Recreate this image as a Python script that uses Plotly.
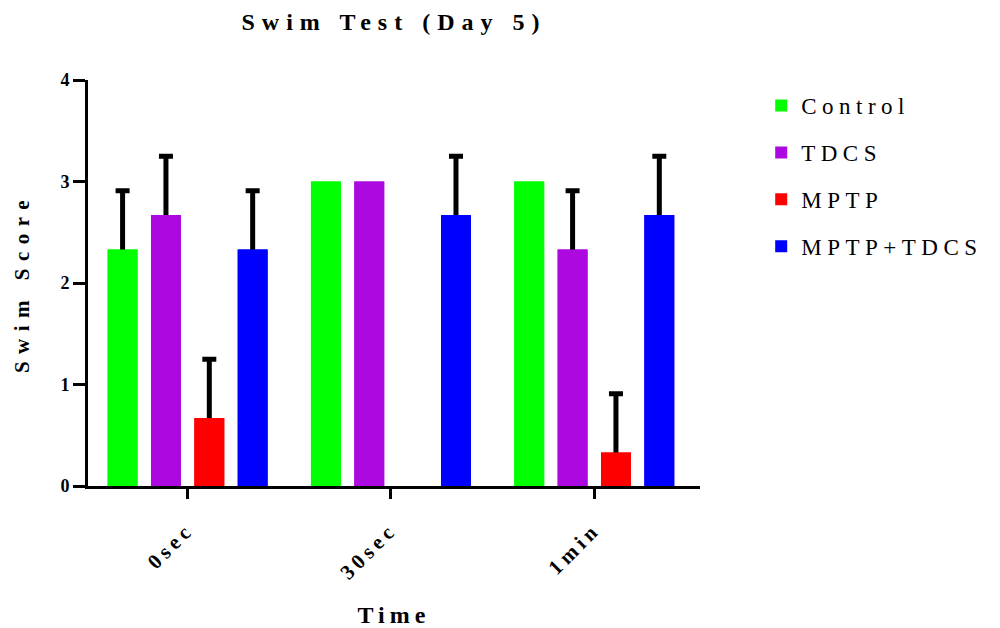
import plotly.graph_objects as go

categories = ["0sec", "30sec", "1min"]
groups = ["Control", "TDCS", "MPTP", "MPTP+TDCS"]
colors = ["#00FF00", "#AB09DF", "#FF0000", "#0000FF"]

control = [2.33, 3.0, 3.0]
control_err = [0.58, None, None]
tdcs = [2.67, 3.0, 2.33]
tdcs_err = [0.58, None, 0.58]
mptp = [0.67, 0.0, 0.33]
mptp_err = [0.58, None, 0.58]
mptp_tdcs = [2.33, 2.67, 2.67]
mptp_tdcs_err = [0.58, 0.58, 0.58]

values = [control, tdcs, mptp, mptp_tdcs]
errors = [control_err, tdcs_err, mptp_err, mptp_tdcs_err]

SERIF = "Liberation Serif, Times New Roman, serif"


def spaced(t, px):
    return f'<span style="letter-spacing:{px}px">{t}</span>'


fig = go.Figure()
for name, col, v, e in zip(groups, colors, values, errors):
    err = ["NaN" if x is None else x for x in e]
    # bar with (symmetric) error bar
    fig.add_trace(go.Bar(
        x=categories, y=v, name=spaced(name, 5.5), legendgroup=name,
        offsetgroup=name, showlegend=True,
        marker=dict(color=col, line=dict(width=0)),
        error_y=dict(type="data", symmetric=True, array=err,
                     color="black", thickness=5, width=7),
    ))
    # same bar drawn again on top so only the upper half of the error bar shows
    fig.add_trace(go.Bar(
        x=categories, y=v, name=name, legendgroup=name,
        offsetgroup=name, showlegend=False, hoverinfo="skip",
        marker=dict(color=col, line=dict(width=0)),
    ))

fig.update_layout(
    width=1000, height=628,
    margin=dict(l=88, r=297, t=80, b=142),
    paper_bgcolor="white", plot_bgcolor="white",
    barmode="group", bargap=0.147, bargroupgap=0.31,
    title=dict(text="<b>" + spaced("Swim Test (Day 5)", 7) + "</b>",
               x=0.5, xref="paper", xanchor="center",
               y=1 - 22 / 628, yref="container", yanchor="middle",
               font=dict(family=SERIF, size=24, color="black")),
    legend=dict(x=1.1, xanchor="left", y=0.99, yanchor="top",
                font=dict(family=SERIF, size=23, color="black"),
                tracegroupgap=14, itemwidth=30, bgcolor="rgba(0,0,0,0)"),
    font=dict(family=SERIF, color="black"),
)

fig.update_xaxes(
    range=[-0.49, 2.52], showline=True, linewidth=3, linecolor="black",
    ticks="outside", ticklen=10, tickwidth=3, tickcolor="black",
    tickangle=-45, tickmode="array", tickvals=categories,
    ticktext=["<b>" + spaced(c, 4.5) + "</b>" for c in categories],
    tickfont=dict(family=SERIF, size=21, color="black"),
    ticklabelstandoff=10, automargin=False,
    showgrid=False, zeroline=False,
    title=dict(text="<b>" + spaced("Time", 5) + "</b>",
               font=dict(family=SERIF, size=24, color="black"), standoff=36),
)
fig.update_yaxes(
    range=[0, 4], dtick=1, showline=True, linewidth=3, linecolor="black",
    ticks="outside", ticklen=12, tickwidth=3, tickcolor="black",
    tickfont=dict(family=SERIF, size=18, color="black"),
    tickprefix="<b>", ticksuffix="</b>", automargin=False,
    showgrid=False, zeroline=False,
    title=dict(text="<b>" + spaced("Swim Score", 7.5) + "</b>",
               font=dict(family=SERIF, size=21, color="black"), standoff=26),
)

fig.write_html("out.html")
